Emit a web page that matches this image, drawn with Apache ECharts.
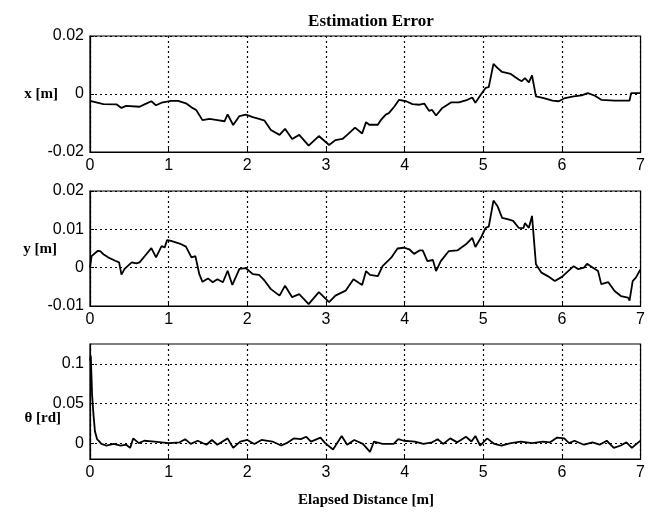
<!DOCTYPE html>
<html>
<head>
<meta charset="utf-8">
<script src="https://cdn.jsdelivr.net/npm/echarts@6/dist/echarts.min.js"></script>
<style>
    html, body { margin: 0; padding: 0; background: #fff; }
    #chart { width: 648px; height: 513px; }
</style>
</head>
<body>
<div id="chart"></div>
<script>
// elapsed distance [m] and estimation error
const xDist = [0, 0.17, 0.34, 0.40, 0.46, 0.63, 0.70, 0.78, 0.84, 0.91, 1.03, 1.12, 1.22, 1.29, 1.35, 1.43, 1.52, 1.62, 1.71, 1.75,
    1.82, 1.90, 1.98, 2.07, 2.15, 2.22, 2.30, 2.41, 2.48, 2.57, 2.66, 2.78, 2.91, 3.04, 3.12, 3.21, 3.27, 3.37, 3.46, 3.51,
    3.55, 3.66, 3.70, 3.76, 3.80, 3.87, 3.93, 4.02, 4.10, 4.19, 4.25, 4.31, 4.35, 4.40, 4.48, 4.59, 4.69, 4.80, 4.86, 4.90,
    4.97, 5.03, 5.07, 5.13, 5.18, 5.24, 5.35, 5.45, 5.49, 5.53, 5.58, 5.62, 5.64, 5.67, 5.77, 5.88, 5.96, 6.04, 6.15, 6.25,
    6.33, 6.42, 6.50, 6.67, 6.86, 6.88, 7.0];
const xErr = [-0.0024, -0.0035, -0.0036, -0.0048, -0.0041, -0.0044, -0.0035, -0.0025, -0.0039, -0.003, -0.0024, -0.0024, -0.0032, -0.0046, -0.0055, -0.009, -0.0086, -0.009, -0.0094, -0.007,
    -0.0107, -0.0076, -0.0071, -0.008, -0.0086, -0.0092, -0.0124, -0.0141, -0.012, -0.0155, -0.0141, -0.0178, -0.0145, -0.0176, -0.0159, -0.0155, -0.0141, -0.0116, -0.0136, -0.0097,
    -0.0106, -0.0106, -0.0089, -0.0071, -0.0066, -0.0043, -0.002, -0.0025, -0.0035, -0.0037, -0.0033, -0.0058, -0.0055, -0.0074, -0.0048, -0.0029, -0.0029, -0.002, -0.0012, -0.003,
    -0.0002, 0.0021, 0.0024, 0.0104, 0.009, 0.0076, 0.0069, 0.005, 0.0044, 0.0055, 0.004, 0.0064, 0.0063, -0.0008, -0.0014, -0.0023, -0.0025, -0.0014, -0.0008, -0.0005,
    0.0003, -0.0006, -0.002, -0.0023, -0.0023, 0.0003, 0.0003];

const yDist = [0, 0.02, 0.10, 0.13, 0.17, 0.23, 0.32, 0.37, 0.40, 0.44, 0.53, 0.59, 0.63, 0.70, 0.78, 0.80, 0.84, 0.91, 0.95, 0.98,
    1.03, 1.14, 1.22, 1.29, 1.34, 1.39, 1.43, 1.50, 1.56, 1.62, 1.69, 1.75, 1.81, 1.90, 1.98, 2.07, 2.15, 2.22, 2.30, 2.41,
    2.48, 2.57, 2.66, 2.78, 2.91, 3.04, 3.12, 3.25, 3.35, 3.46, 3.51, 3.56, 3.66, 3.72, 3.83, 3.91, 3.99, 4.06, 4.12, 4.19,
    4.23, 4.29, 4.36, 4.40, 4.46, 4.56, 4.67, 4.78, 4.86, 4.90, 4.97, 5.03, 5.07, 5.13, 5.18, 5.24, 5.32, 5.38, 5.45, 5.51,
    5.53, 5.58, 5.62, 5.64, 5.67, 5.74, 5.82, 5.91, 6.0, 6.08, 6.15, 6.21, 6.28, 6.32, 6.38, 6.46, 6.50, 6.59, 6.67, 6.75,
    6.84, 6.86, 6.90, 6.94, 7.0];
const yErr = [0, 0.003, 0.0044, 0.0043, 0.0035, 0.0027, 0.0018, 0.0014, -0.0018, -0.0003, 0.0014, 0.0011, 0.0014, 0.0031, 0.0051, 0.0048, 0.0027, 0.0056, 0.0053, 0.0072,
    0.007, 0.0063, 0.0055, 0.0027, 0.003, -0.0017, -0.0037, -0.0028, -0.0038, -0.003, -0.0038, -0.0008, -0.0045, -0.0003, -0.0001, -0.0017, -0.0019, -0.0034, -0.0056, -0.0073,
    -0.0047, -0.0077, -0.0069, -0.0095, -0.0064, -0.009, -0.0073, -0.006, -0.003, -0.0045, -0.0009, -0.0019, -0.0022, 0.0004, 0.0026, 0.005, 0.0052, 0.0048, 0.0036, 0.0045,
    0.0045, 0.0017, 0.002, -0.0009, 0.0017, 0.0043, 0.0045, 0.0061, 0.0078, 0.0054, 0.0078, 0.0104, 0.0107, 0.0175, 0.0161, 0.013, 0.0126, 0.0122, 0.0104, 0.0103,
    0.0116, 0.0104, 0.0135, 0.0131, 0.0009, -0.0013, -0.0022, -0.0035, -0.0024, -0.0009, 0.0004, -0.0004, 0, 0.001, 0.0002, -0.0009, -0.0043, -0.0038, -0.0061, -0.0074,
    -0.0078, -0.0086, -0.0035, -0.0026, -0.0004];

const thDist = [0, 0.01, 0.027, 0.045, 0.063, 0.09, 0.12, 0.145, 0.21, 0.30, 0.39, 0.46, 0.51, 0.55, 0.62, 0.69, 0.82, 0.91, 1.0, 1.14,
    1.21, 1.28, 1.37, 1.48, 1.55, 1.62, 1.67, 1.75, 1.82, 1.91, 2.0, 2.09, 2.18, 2.32, 2.43, 2.50, 2.59, 2.68, 2.75, 2.81,
    2.93, 2.99, 3.09, 3.20, 3.27, 3.36, 3.47, 3.56, 3.61, 3.72, 3.86, 3.92, 3.99, 4.13, 4.24, 4.35, 4.42, 4.49, 4.58, 4.67,
    4.78, 4.85, 4.90, 4.96, 5.05, 5.14, 5.23, 5.35, 5.48, 5.62, 5.76, 5.85, 5.94, 6.03, 6.09, 6.16, 6.28, 6.39, 6.48, 6.57,
    6.66, 6.75, 6.82, 6.89, 6.96, 7.0];
const thErr = [0.104, 0.11, 0.06, 0.035, 0.015, 0.005, 0.002, -0.001, -0.003, -0.001, -0.003, -0.002, -0.006, 0.006, 0, 0.003, 0.002, 0.001, 0, 0.001,
    0.005, -0.001, 0.003, -0.002, 0.004, -0.002, 0.001, 0.006, -0.006, 0.002, 0.004, -0.001, 0.004, 0.002, -0.003, 0, 0.006, 0.005, 0.008, 0.002,
    0.007, 0, -0.008, 0.009, -0.002, 0.004, -0.001, -0.011, 0.002, -0.001, -0.001, 0.005, 0.003, 0.002, -0.001, 0.001, 0.005, -0.001, 0.006, 0.001,
    0.008, 0.002, 0.009, -0.003, 0.006, -0.001, -0.003, 0, 0.002, 0, 0.002, 0.001, 0.007, 0.006, 0, 0.003, -0.002, 0.001, -0.002, 0.003,
    -0.006, -0.003, 0.001, -0.006, 0, 0.003];

const distTicks = [0, 1, 2, 3, 4, 5, 6, 7];
const xTicks = [-0.02, 0, 0.02];
const yTicks = [-0.01, 0, 0.01, 0.02];
const thTicks = [0, 0.05, 0.1];

const chart = echarts.init(document.getElementById("chart"));

const sans = "Liberation Sans";
const serif = "Liberation Serif";
const dots = { color: "#000", width: 1.2, type: [2, 3] };

const pair = (a, b) => a.map((v, i) => [v, b[i]]);
const fmt = (v) => String(+(+v).toFixed(3));

const grids = [
    { left: 90, right: 5, top: 36, height: 116 },
    { left: 90, right: 5, top: 191, height: 115 },
    { left: 90, right: 5, top: 344, height: 115 },
];

const xAxis = grids.map((g, i) => ({
    type: "value",
    gridIndex: i,
    min: 0,
    max: 7,
    interval: 1,
    axisLine: { show: true, onZero: false, lineStyle: { color: "#000", width: 1.2 } },
    axisTick: { show: true, inside: true, length: 4, lineStyle: { color: "#000" } },
    axisLabel: { color: "#000", fontFamily: sans, fontSize: 16, margin: 6, customValues: distTicks },
    splitLine: { show: true, lineStyle: dots },
}));

const yAxis = [
    [-0.02, 0.02, xTicks],
    [-0.01, 0.02, yTicks],
    [-0.02, 0.125, thTicks],
].map(([lo, hi, ticks], i) => ({
    type: "value",
    gridIndex: i,
    min: lo,
    max: hi,
    axisLine: { show: true, lineStyle: { color: "#000", width: 1.2 } },
    axisTick: { show: true, inside: true, length: 4, customValues: ticks, lineStyle: { color: "#000" } },
    axisLabel: { color: "#000", fontFamily: sans, fontSize: 16, margin: 6, customValues: ticks, formatter: fmt },
    splitLine: { show: true, lineStyle: dots },
}));

const lineSeries = (data, i) => ({
    type: "line",
    xAxisIndex: i,
    yAxisIndex: i,
    data: data,
    showSymbol: false,
    lineStyle: { color: "#000", width: 1.8 },
});

const label = (text, x, y, align) => ({
    type: "text",
    x: x,
    y: y,
    style: {
        text: text,
        fill: "#000",
        font: "bold 15px " + serif,
        align: align,
        verticalAlign: "middle",
    },
});

const options = {
    animation: false,
    backgroundColor: "#fff",
    title: {
        text: "Estimation Error",
        left: 366,
        top: 8,
        textAlign: "center",
        textStyle: { color: "#000", fontFamily: serif, fontWeight: "bold", fontSize: 17 },
    },
    grid: grids.map((g) => ({ ...g, show: true, borderColor: "#000", borderWidth: 1.2 })),
    xAxis: xAxis,
    yAxis: yAxis,
    series: [
        lineSeries(pair(xDist, xErr), 0),
        lineSeries(pair(yDist, yErr), 1),
        lineSeries(pair(thDist, thErr), 2),
    ],
    graphic: [
        label("x [m]", 58, 94, "right"),
        label("y [m]", 57, 249, "right"),
        label("\u03b8 [rd]", 61, 418, "right"),
        label("Elapsed Distance [m]", 366, 500, "center"),
    ],
};

chart.setOption(options);
</script>
</body>
</html>
